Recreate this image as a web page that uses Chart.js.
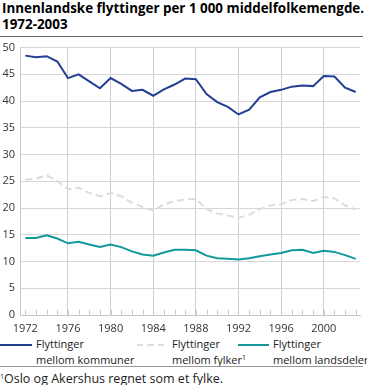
<!DOCTYPE html>
<html>
<head>
<meta charset="utf-8">
<script src="https://cdn.jsdelivr.net/npm/chart.js@4/dist/chart.umd.min.js"></script>
<style>
  html, body { margin: 0; padding: 0; background: #fff; }
  body { width: 367px; height: 385px; position: relative; overflow: hidden; font-family: "Open Sans", sans-serif; color: #222; }
  #title { position: absolute; left: 2px; top: 0px; font-size: 13.4px; font-weight: bold; line-height: 16px; color: #000; white-space: nowrap; }
  #toprule { position: absolute; left: 0; top: 36px; width: 363px; height: 1px; background: #666; }
  #wrap { position: absolute; left: 0; top: 36px; width: 367px; height: 300px; }
  .leg { position: absolute; top: 336px; font-size: 11px; line-height: 16px; color: #222; white-space: nowrap; }
  .sw { position: absolute; top: 344px; height: 0; }
  #botrule { position: absolute; left: 0; top: 366px; width: 363px; height: 1px; background: #999; }
  #foot { position: absolute; left: 0; top: 371px; font-size: 12.5px; line-height: 15px; color: #222; white-space: nowrap; }
  sup { font-size: 7px; vertical-align: top; position: relative; top: -2px; }
</style>
</head>
<body>
<div id="title">Innenlandske flyttinger per 1 000 middelfolkemengde.<br>1972-2003</div>
<div id="toprule"></div>
<div id="wrap"><canvas id="c" width="367" height="300"></canvas></div>

<div class="sw" style="left:0;width:32px;border-top:2px solid #233f93;"></div>
<div class="leg" style="left:36px;">Flyttinger<br>mellom kommuner</div>
<div class="sw" style="left:137px;width:27px;border-top:2px dashed #dcdcdc;"></div>
<div class="leg" style="left:172px;">Flyttinger<br>mellom fylker<sup>1</sup></div>
<div class="sw" style="left:238px;width:31px;border-top:2px solid #13999a;"></div>
<div class="leg" style="left:273px;">Flyttinger<br>mellom landsdeler</div>
<div id="botrule"></div>
<div id="foot"><sup>1</sup>Oslo og Akershus regnet som et fylke.</div>

<script>
const years = [1972,1973,1974,1975,1976,1977,1978,1979,1980,1981,1982,1983,1984,1985,1986,1987,
               1988,1989,1990,1991,1992,1993,1994,1995,1996,1997,1998,1999,2000,2001,2002,2003];
const kommuner = [48.5,48.2,48.4,47.4,44.3,45.0,43.7,42.4,44.3,43.2,41.9,42.1,41.0,42.2,43.1,44.2,
                  44.1,41.3,39.8,38.9,37.5,38.4,40.7,41.7,42.1,42.7,42.9,42.8,44.7,44.6,42.5,41.7];
const fylker = [25.3,25.5,26.1,25.1,23.5,23.8,22.8,22.2,22.8,22.2,21.0,20.2,19.5,20.7,21.3,21.6,
                21.7,19.8,19.0,18.6,18.2,18.7,19.8,20.5,20.7,21.5,21.7,21.3,22.1,21.8,20.5,19.7];
const landsdeler = [14.4,14.4,14.9,14.3,13.4,13.7,13.2,12.7,13.2,12.7,11.9,11.3,11.1,11.7,12.2,12.2,
                    12.1,11.1,10.6,10.5,10.4,10.6,11.0,11.3,11.6,12.1,12.2,11.6,12.0,11.8,11.2,10.5];
const yTicks = [0,5,10,15,20,25,30,35,40,45,50];

const toXY = arr => arr.map((v, i) => ({ x: years[i], y: v }));

const minorTicks = {
  id: 'minorTicks',
  afterDatasetsDraw(chart) {
    const ctx = chart.ctx, xs = chart.scales.x, a = chart.chartArea;
    ctx.save();
    ctx.strokeStyle = '#c8c8c8';
    ctx.lineWidth = 1;
    years.forEach(y => {
      const px = Math.round(xs.getPixelForValue(y)) + 0.5;
      ctx.beginPath();
      ctx.moveTo(px, a.bottom - 5);
      ctx.lineTo(px, a.bottom);
      ctx.stroke();
    });
    ctx.restore();
  }
};

new Chart(document.getElementById('c'), {
  type: 'line',
  data: {
    datasets: [
      { label: 'Flyttinger mellom kommuner', data: toXY(kommuner), borderColor: '#233f93', borderWidth: 2, pointRadius: 0, tension: 0, fill: false },
      { label: 'Flyttinger mellom fylker', data: toXY(fylker), borderColor: '#dcdcdc', borderWidth: 2, borderDash: [7,4], pointRadius: 0, tension: 0, fill: false },
      { label: 'Flyttinger mellom landsdeler', data: toXY(landsdeler), borderColor: '#13999a', borderWidth: 2, pointRadius: 0, tension: 0, fill: false }
    ]
  },
  options: {
    responsive: false,
    animation: false,
    devicePixelRatio: 1,
    layout: { padding: { top: 6.7, right: 7, left: 0, bottom: 0 } },
    plugins: { legend: { display: false }, tooltip: { enabled: false } },
    scales: {
      x: {
        type: 'linear',
        min: 1971.5,
        max: 2003.4,
        afterBuildTicks: s => { s.ticks = years.map(v => ({ value: v })); },
        afterFit: s => { s.height = 21; },
        grid: {
          color: c => (c.tick && c.tick.value % 4 === 0 && c.tick.value !== 1972) ? '#d0d0d0' : 'rgba(0,0,0,0)',
          drawTicks: false,
          lineWidth: 1
        },
        border: { display: true, color: '#c8c8c8' },
        ticks: {
          autoSkip: false, maxRotation: 0, padding: 7,
          color: '#333',
          font: { family: 'Open Sans', size: 11 },
          callback: v => (v % 4 === 0 ? String(v) : '')
        }
      },
      y: {
        min: 0, max: 50,
        afterBuildTicks: s => { s.ticks = yTicks.map(v => ({ value: v })); },
        afterFit: s => { s.width = 20; },
        grid: { color: '#d6d6d6', drawTicks: false, lineWidth: 1 },
        border: { display: true, color: '#c8c8c8' },
        ticks: { padding: 5, color: '#333', font: { family: 'Open Sans', size: 11 } }
      }
    }
  },
  plugins: [minorTicks]
});
</script>
</body>
</html>
